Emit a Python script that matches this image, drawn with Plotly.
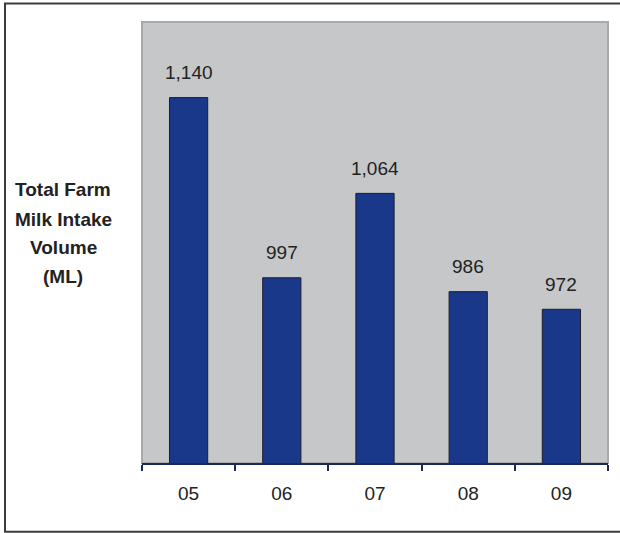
import plotly.graph_objects as go

# Farm milk intake volume by year (ML)
years = ["05", "06", "07", "08", "09"]
volumes = [1140, 997, 1064, 986, 972]
value_labels = ["1,140", "997", "1,064", "986", "972"]
title_lines = ["Total Farm", "Milk Intake", "Volume", "(ML)"]

BAR_COLOR = "#1a388a"
PLOT_BG = "#c6c7c9"
TEXT_COLOR = "#222222"
FONT = "Liberation Sans, Arial, sans-serif"

W, H = 620, 533
M_L, M_R, M_T, M_B = 142, 12, 22, 70
plot_h = H - M_T - M_B
plot_w = W - M_L - M_R

fig = go.Figure()
fig.add_trace(go.Bar(
    x=years,
    y=volumes,
    width=0.41,
    marker=dict(color=BAR_COLOR, line=dict(color="#1e1e2e", width=1)),
    hoverinfo="x+y",
))

# value labels above each bar (x given as category index)
for i, (v, lab) in enumerate(zip(volumes, value_labels)):
    fig.add_annotation(
        x=i, y=v, text=lab, showarrow=False,
        xanchor="center", yanchor="middle", yshift=25,
        font=dict(family=FONT, size=19, color=TEXT_COLOR),
    )

# axis title, one annotation per line for fixed line spacing
title_y_px = [189.3, 219, 247.5, 276]
for line, ypx in zip(title_lines, title_y_px):
    fig.add_annotation(
        xref="paper", yref="paper",
        x=(63 - M_L) / plot_w, y=(H - M_B - ypx) / plot_h,
        text=f"<b>{line}</b>", showarrow=False,
        xanchor="center", yanchor="middle",
        font=dict(family=FONT, size=19, color=TEXT_COLOR),
    )

# plot area frame
fig.add_shape(type="rect", xref="paper", yref="paper",
              x0=0, x1=1, y0=0, y1=1,
              line=dict(color="#a8a9ab", width=2), layer="below")
# outer chart frame
fig.add_shape(type="rect", xref="paper", yref="paper",
              x0=(5 - M_L) / plot_w, x1=(625 - M_L) / plot_w,
              y0=(H - M_B - 531.7) / plot_h, y1=(H - M_B - 3.5) / plot_h,
              line=dict(color="#3c3c3c", width=2))

fig.update_layout(
    width=W, height=H,
    margin=dict(l=M_L, r=M_R, t=M_T, b=M_B, pad=0),
    paper_bgcolor="white",
    plot_bgcolor=PLOT_BG,
    showlegend=False,
    xaxis=dict(
        type="category",
        categoryorder="array", categoryarray=years,
        range=[-0.5, len(years) - 0.5],
        showline=True, linecolor="#1c2858", linewidth=1.5,
        ticks="outside", tickson="boundaries", ticklen=6,
        tickcolor="#1c2858", tickwidth=1.5,
        showgrid=False, zeroline=False,
        tickfont=dict(family=FONT, size=19, color=TEXT_COLOR),
        ticklabelstandoff=12,
    ),
    yaxis=dict(range=[850, 1200], visible=False, showgrid=False),
)

fig.write_html("out.html")
